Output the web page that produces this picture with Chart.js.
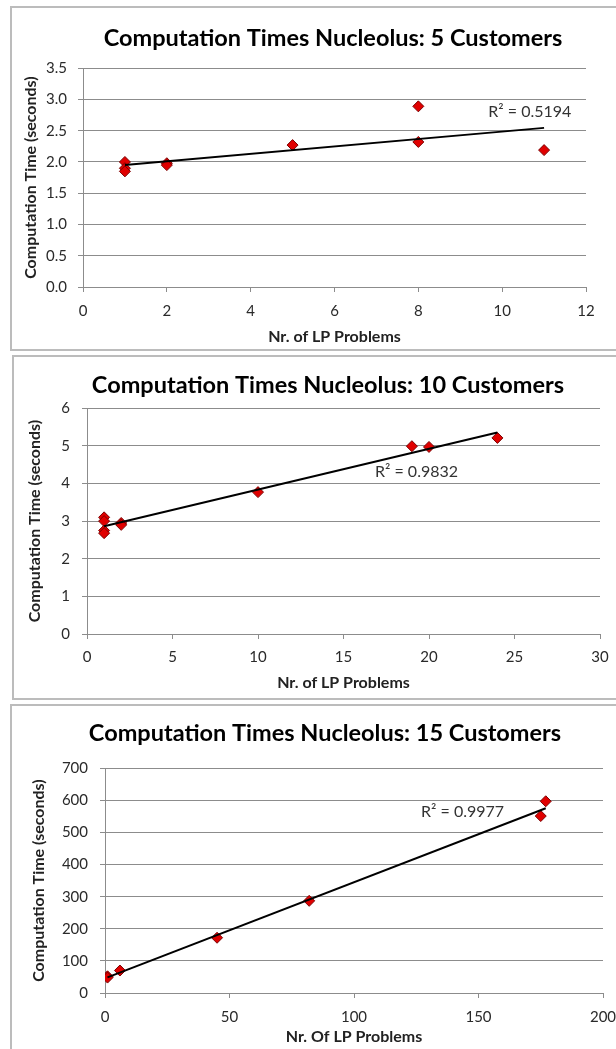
<!DOCTYPE html>
<html>
<head>
<meta charset="utf-8">
<title>Computation Times Nucleolus</title>
<script src="https://cdn.jsdelivr.net/npm/chart.js@4.4.1/dist/chart.umd.min.js"></script>
<style>
  html, body { margin: 0; padding: 0; background: #fff; overflow: hidden; width: 616px; height: 1049px; }
  .panel { position: absolute; box-sizing: border-box; border: 2px solid #bcbcbc; background: #fff; }
  #p5  { left: 10px; top: 6px;   width: 646px; height: 345px; }
  #p10 { left: 12px; top: 355px; width: 632px; height: 345px; }
  #p15 { left: 10px; top: 704px; width: 630px; height: 352px; }
</style>
</head>
<body>
<div class="panel" id="p5"><canvas id="chart5"></canvas></div>
<div class="panel" id="p10"><canvas id="chart10"></canvas></div>
<div class="panel" id="p15"><canvas id="chart15"></canvas></div>

<script>
// ── Data ────────────────────────────────────────────────
// 5 customers
const lp5   = [1, 1, 1, 2, 2, 5, 8, 8, 11];
const time5 = [2.0, 1.9, 1.85, 1.98, 1.95, 2.27, 2.32, 2.89, 2.19];
const xTicks5 = [0, 2, 4, 6, 8, 10, 12];
const yTicks5 = [0, 0.5, 1, 1.5, 2, 2.5, 3, 3.5];

// 10 customers
const lp10   = [1, 1, 1, 1, 2, 2, 10, 19, 20, 24];
const time10 = [3.1, 3.0, 2.75, 2.68, 2.95, 2.9, 3.77, 4.99, 4.97, 5.21];
const xTicks10 = [0, 5, 10, 15, 20, 25, 30];
const yTicks10 = [0, 1, 2, 3, 4, 5, 6];

// 15 customers
const lp15   = [1, 1, 6, 45, 82, 175, 177];
const time15 = [52, 48, 70, 172, 287, 551, 597];
const xTicks15 = [0, 50, 100, 150, 200];
const yTicks15 = [0, 100, 200, 300, 400, 500, 600, 700];

const rSquared = ["0.5194", "0.9832", "0.9977"];

// ── Helpers ─────────────────────────────────────────────
const FONT = "Lato, 'Open Sans', sans-serif";
Chart.defaults.font.family = FONT;
Chart.defaults.color = "#2a2a2a";

// least squares trendline over the range of the data
function trendline(xs, ys) {
  const n = xs.length;
  const mx = xs.reduce((a, b) => a + b, 0) / n;
  const my = ys.reduce((a, b) => a + b, 0) / n;
  let sxy = 0, sxx = 0;
  xs.forEach((x, i) => { sxy += (x - mx) * (ys[i] - my); sxx += (x - mx) * (x - mx); });
  const slope = sxy / sxx, icpt = my - slope * mx;
  const x0 = Math.min(...xs), x1 = Math.max(...xs);
  return [{ x: x0, y: icpt + slope * x0 }, { x: x1, y: icpt + slope * x1 }];
}

// R² text placed in data units
const r2Label = {
  id: "r2Label",
  afterDatasetsDraw(chart, args, opts) {
    const { ctx, scales } = chart;
    ctx.save();
    ctx.font = "16px " + FONT;
    ctx.fillStyle = "#333";
    ctx.textAlign = "center";
    ctx.textBaseline = "middle";
    ctx.fillText(opts.text, scales.x.getPixelForValue(opts.at[0]), scales.y.getPixelForValue(opts.at[1]));
    ctx.restore();
  }
};

function buildChart(id, xs, ys, xTicks, yTicks, fmt, cfg) {
  const gridColor = "#8c8c8c";
  new Chart(document.getElementById(id), {
    type: "scatter",
    data: {
      datasets: [
        {
          data: trendline(xs, ys),
          showLine: true,
          borderColor: "#000",
          borderWidth: 2,
          pointRadius: 0
        },
        {
          data: xs.map((x, i) => ({ x, y: ys[i] })),
          pointStyle: "rectRot",
          pointRadius: 5.5,
          backgroundColor: "#e00000",
          borderColor: "#7a0000",
          borderWidth: 1
        }
      ]
    },
    options: {
      responsive: true,
      maintainAspectRatio: false,
      animation: false,
      events: [],
      layout: { padding: 0 },
      plugins: {
        legend: { display: false },
        tooltip: { enabled: false },
        title: {
          display: true,
          text: cfg.title,
          color: "#000",
          font: { size: 23.5, weight: "bold" },
          padding: { top: cfg.titleTop, bottom: cfg.titleBottom }
        },
        r2Label: { text: "R² = " + cfg.r2, at: cfg.r2At }
      },
      scales: {
        x: {
          type: "linear",
          min: xTicks[0],
          max: xTicks[xTicks.length - 1],
          afterBuildTicks: s => { s.ticks = xTicks.map(v => ({ value: v })); },
          afterFit: s => { s.height = cfg.xHeight; },
          ticks: { font: { size: 15 }, color: "#2a2a2a", padding: cfg.xLabelPad, maxRotation: 0 },
          grid: { drawOnChartArea: false, drawTicks: true, tickLength: 5, color: gridColor },
          border: { display: true, color: gridColor },
          title: {
            display: true,
            text: cfg.xTitle,
            color: "#222",
            font: { size: 16, weight: "bold" },
            padding: { top: 0, bottom: cfg.xTitlePad }
          }
        },
        y: {
          type: "linear",
          min: yTicks[0],
          max: yTicks[yTicks.length - 1],
          afterBuildTicks: s => { s.ticks = yTicks.map(v => ({ value: v })); },
          afterFit: s => { s.width = cfg.yWidth; },
          ticks: { font: { size: 15 }, color: "#2a2a2a", padding: cfg.yLabelPad, callback: fmt },
          grid: { drawTicks: true, tickLength: 5, color: gridColor },
          border: { display: true, color: gridColor },
          title: {
            display: true,
            text: "Computation Time (seconds)",
            color: "#222",
            font: { size: 16, weight: "bold" },
            padding: { top: cfg.yTitlePad, bottom: 0 }
          }
        },
        // empty right-hand gutter, keeps the title centred on the whole panel
        gutter: {
          type: "linear",
          position: "right",
          afterFit: s => { s.width = cfg.padRight; },
          ticks: { display: false },
          grid: { display: false, drawOnChartArea: false },
          border: { display: false }
        }
      }
    },
    plugins: [r2Label]
  });
}

// ── Charts ──────────────────────────────────────────────
buildChart("chart5", lp5, time5, xTicks5, yTicks5, v => v.toFixed(1), {
  title: "Computation Times Nucleolus: 5 Customers",
  xTitle: "Nr. of LP Problems",
  r2: rSquared[0], r2At: [10.66, 2.8],
  titleTop: 16, titleBottom: 16,
  padRight: 68, yWidth: 71, xHeight: 62,
  xLabelPad: 10, xTitlePad: 2.4, yLabelPad: 11, yTitlePad: 9.4
});

buildChart("chart10", lp10, time10, xTicks10, yTicks10, v => String(v), {
  title: "Computation Times Nucleolus: 10 Customers",
  xTitle: "Nr. of LP Problems",
  r2: rSquared[1], r2At: [19.27, 4.3],
  titleTop: 14, titleBottom: 9,
  padRight: 42, yWidth: 73, xHeight: 64,
  xLabelPad: 9, xTitlePad: 5.4, yLabelPad: 12, yTitlePad: 11.4
});

buildChart("chart15", lp15, time15, xTicks15, yTicks15, v => String(v), {
  title: "Computation Times Nucleolus: 15 Customers",
  xTitle: "Nr. Of LP Problems",
  r2: rSquared[2], r2At: [143.6, 563],
  titleTop: 13, titleBottom: 21,
  padRight: 35, yWidth: 93, xHeight: 61,
  xLabelPad: 10, xTitlePad: 7.4, yLabelPad: 12, yTitlePad: 17.4
});
</script>
</body>
</html>
